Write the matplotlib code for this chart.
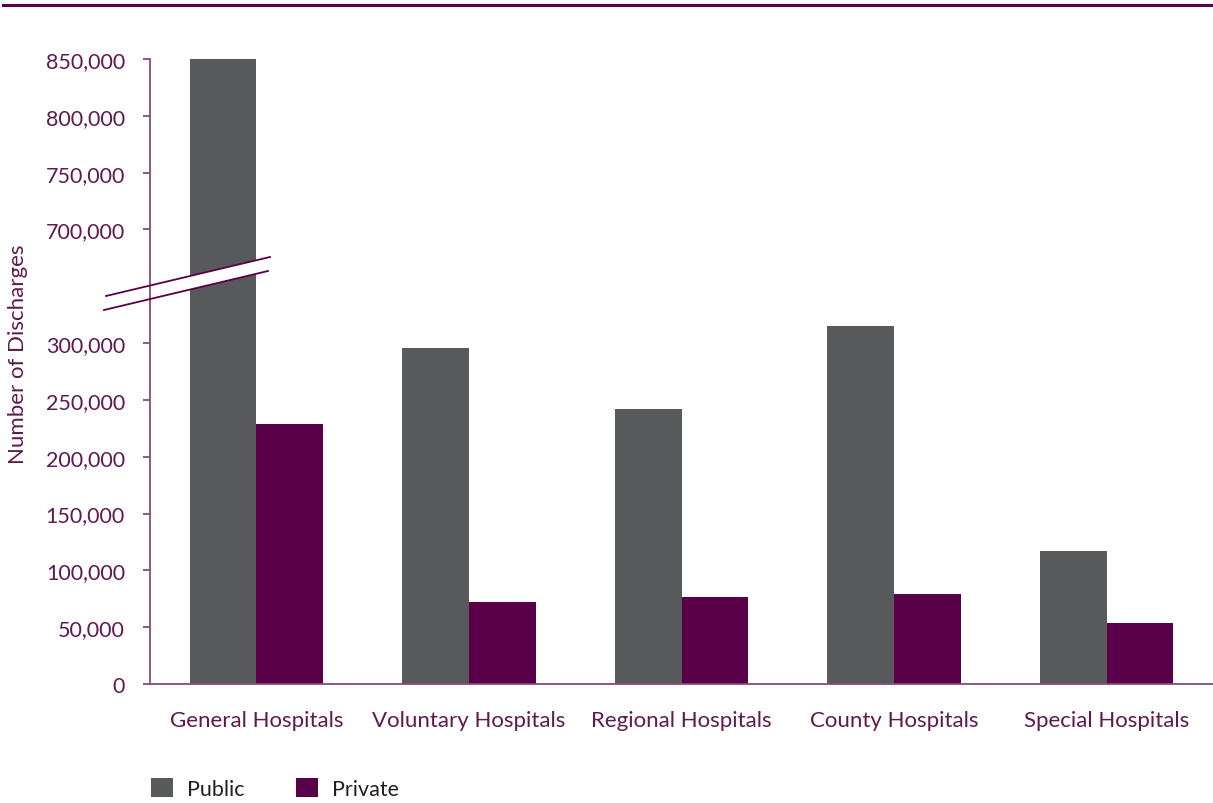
import numpy as np
import matplotlib
matplotlib.use("Agg")
import matplotlib.pyplot as plt
from matplotlib.patches import Patch, Polygon
from matplotlib.lines import Line2D
from matplotlib.ticker import FuncFormatter

categories = ["General Hospitals", "Voluntary Hospitals", "Regional Hospitals",
              "County Hospitals", "Special Hospitals"]
public = [850000, 296000, 242000, 315000, 117000]
private = [229000, 72000, 76500, 79000, 54000]
yticks = [0, 50000, 100000, 150000, 200000, 250000, 300000,
          700000, 750000, 800000, 850000]

GREY = "#58595B"
PURPLE = "#5A0048"
TXT = "#5E1A52"
AXC = "#864A7E"

plt.rcParams["font.family"] = ["Lato", "DejaVu Sans"]

# broken axis: squeeze 320k..680k into a short gap
LO, HI, GAP = 320000, 680000, 60000

def fwd(v):
    v = np.asarray(v, dtype=float)
    return np.where(v <= LO, v,
                    np.where(v >= HI, v - (HI - LO) + GAP,
                             LO + (v - LO) * GAP / (HI - LO)))

def inv(d):
    d = np.asarray(d, dtype=float)
    return np.where(d <= LO, d,
                    np.where(d >= LO + GAP, d + (HI - LO) - GAP,
                             LO + (d - LO) * (HI - LO) / GAP))

W, H = 1213, 804
fig = plt.figure(figsize=(W / 100, H / 100), dpi=100)
ax = fig.add_axes([150 / W, 1 - 685 / H, (W - 150) / W, (685 - 60) / H])
ax.set_yscale("function", functions=(fwd, inv))

x = np.arange(len(categories))
bw = 0.314
ax.bar(x - bw / 2, public, bw, color=GREY, zorder=1)
ax.bar(x + bw / 2, private, bw, color=PURPLE, zorder=1)

ax.set_xlim(-0.5, len(categories) - 0.5)
ax.set_ylim(0, 850000)
ax.set_yticks(yticks)
ax.yaxis.set_major_formatter(FuncFormatter(lambda v, p: f"{v:,.0f}"))
ax.set_xticks(x)
ax.set_xticklabels(categories)
ax.tick_params(axis="y", length=5, width=1.3, color=AXC, pad=13,
               labelsize=15.5, labelcolor=TXT)
ax.tick_params(axis="x", length=0, pad=19, labelsize=16, labelcolor=TXT)
ax.minorticks_off()
for s in ["top", "right"]:
    ax.spines[s].set_visible(False)
for s in ["left", "bottom"]:
    ax.spines[s].set_color(AXC)
    ax.spines[s].set_linewidth(1.3)

# break marks (figure pixel coords)
def fp(px, py):
    return (px / W, 1 - py / H)

band = Polygon([fp(106, 297), fp(270, 258), fp(268, 272), fp(104, 311)],
               closed=True, transform=fig.transFigure, facecolor="white",
               edgecolor="none", zorder=2, clip_on=False)
ax.add_patch(band)
for (a, b) in [((106, 297), (270, 258)), ((104, 311), (268, 272))]:
    p1, p2 = fp(*a), fp(*b)
    ax.add_line(Line2D([p1[0], p2[0]], [p1[1], p2[1]], transform=fig.transFigure,
                       color=PURPLE, lw=1.3, zorder=3, clip_on=False))

fig.text(18 / W, 1 - 354 / H, "Number of Discharges", rotation=90, ha="center",
         va="center", fontsize=16, color=TXT)

# top rule
fig.add_artist(Line2D([3 / W, 1], [1 - 5.5 / H, 1 - 5.5 / H], transform=fig.transFigure,
                      color=PURPLE, lw=2.2))

handles = [Patch(facecolor=GREY, label="Public"), Patch(facecolor=PURPLE, label="Private")]
fig.legend(handles=handles, loc="lower left", bbox_to_anchor=(151 / W, 1 - 800 / H),
           ncol=2, frameon=False, fontsize=15.5, handlelength=1.02, handleheight=1.02,
           handletextpad=0.65, columnspacing=2.4, borderpad=0, borderaxespad=0,
           labelcolor="#231F20")

fig.savefig("out.png", dpi=100, facecolor="white")
